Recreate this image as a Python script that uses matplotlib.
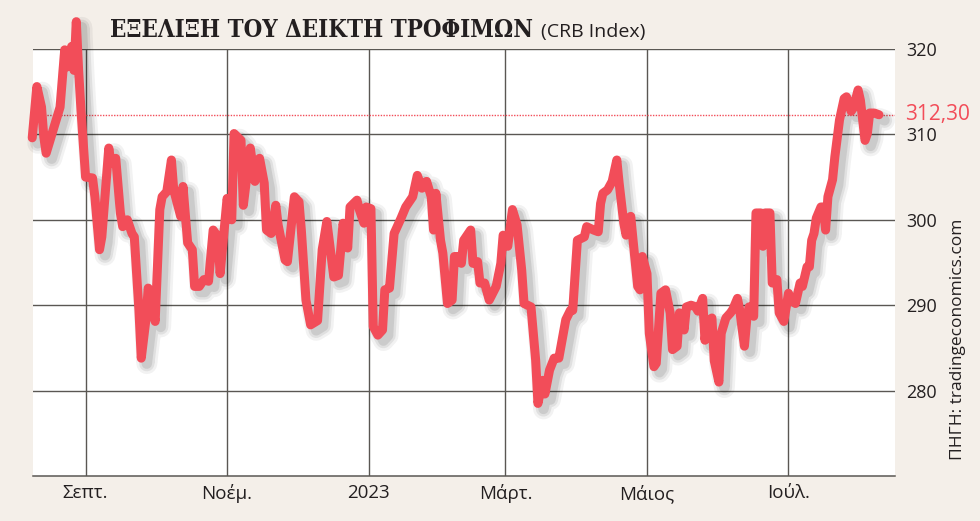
import matplotlib
matplotlib.use("Agg")
import matplotlib.pyplot as plt
import matplotlib.patheffects as pe
from matplotlib import font_manager as fm
import pandas as pd

dates = [
    "2022-08-09", "2022-08-11", "2022-08-13", "2022-08-14", "2022-08-15", "2022-08-18",
    "2022-08-21", "2022-08-23", "2022-08-24", "2022-08-26", "2022-08-27", "2022-08-28",
    "2022-08-29", "2022-08-30", "2022-09-01", "2022-09-04", "2022-09-05", "2022-09-07",
    "2022-09-08", "2022-09-11", "2022-09-12", "2022-09-14", "2022-09-16", "2022-09-17",
    "2022-09-19", "2022-09-21", "2022-09-22", "2022-09-24", "2022-09-25", "2022-09-27",
    "2022-09-28", "2022-10-01", "2022-10-03", "2022-10-04", "2022-10-06", "2022-10-08",
    "2022-10-09", "2022-10-12", "2022-10-13", "2022-10-15", "2022-10-17", "2022-10-18",
    "2022-10-20", "2022-10-22", "2022-10-24", "2022-10-26", "2022-10-28", "2022-10-29",
    "2022-11-01", "2022-11-03", "2022-11-04", "2022-11-07", "2022-11-08", "2022-11-11",
    "2022-11-13", "2022-11-15", "2022-11-17", "2022-11-18", "2022-11-20", "2022-11-22",
    "2022-11-23", "2022-11-26", "2022-11-27", "2022-11-30", "2022-12-02", "2022-12-03",
    "2022-12-05", "2022-12-07", "2022-12-10", "2022-12-12", "2022-12-14", "2022-12-15",
    "2022-12-17", "2022-12-19", "2022-12-21", "2022-12-23", "2022-12-24", "2022-12-27",
    "2022-12-28", "2022-12-30", "2022-12-31", "2023-01-02", "2023-01-03", "2023-01-05",
    "2023-01-07", "2023-01-08", "2023-01-10", "2023-01-12", "2023-01-15", "2023-01-17",
    "2023-01-20", "2023-01-22", "2023-01-24", "2023-01-26", "2023-01-28", "2023-01-29",
    "2023-01-30", "2023-02-01", "2023-02-02", "2023-02-04", "2023-02-06", "2023-02-07",
    "2023-02-09", "2023-02-10", "2023-02-11", "2023-02-14", "2023-02-15", "2023-02-17",
    "2023-02-18", "2023-02-20", "2023-02-22", "2023-02-25", "2023-02-27", "2023-02-28",
    "2023-03-02", "2023-03-04", "2023-03-06", "2023-03-08", "2023-03-09", "2023-03-12",
    "2023-03-14", "2023-03-15", "2023-03-17", "2023-03-18", "2023-03-20", "2023-03-22",
    "2023-03-24", "2023-03-27", "2023-03-29", "2023-03-30", "2023-04-01", "2023-04-04",
    "2023-04-05", "2023-04-08", "2023-04-10", "2023-04-11", "2023-04-12", "2023-04-14",
    "2023-04-16", "2023-04-18", "2023-04-19", "2023-04-21", "2023-04-22", "2023-04-24",
    "2023-04-25", "2023-04-27", "2023-04-28", "2023-04-29", "2023-05-01", "2023-05-02",
    "2023-05-04", "2023-05-05", "2023-05-07", "2023-05-09", "2023-05-11", "2023-05-12",
    "2023-05-14", "2023-05-15", "2023-05-16", "2023-05-17", "2023-05-18", "2023-05-20",
    "2023-05-22", "2023-05-23", "2023-05-25", "2023-05-26", "2023-05-27", "2023-05-29",
    "2023-05-30", "2023-06-01", "2023-06-02", "2023-06-04", "2023-06-06", "2023-06-07",
    "2023-06-09", "2023-06-10", "2023-06-12", "2023-06-13", "2023-06-14", "2023-06-16",
    "2023-06-17", "2023-06-19", "2023-06-20", "2023-06-21", "2023-06-23", "2023-06-24",
    "2023-06-25", "2023-06-26", "2023-06-27", "2023-06-29", "2023-07-01", "2023-07-02",
    "2023-07-04", "2023-07-06", "2023-07-07", "2023-07-09", "2023-07-10", "2023-07-11",
    "2023-07-12", "2023-07-13", "2023-07-15", "2023-07-16", "2023-07-17", "2023-07-18",
    "2023-07-20", "2023-07-21", "2023-07-23", "2023-07-25", "2023-07-26", "2023-07-28",
    "2023-07-29", "2023-07-31", "2023-08-01", "2023-08-03", "2023-08-04", "2023-08-05",
    "2023-08-07", "2023-08-09",
]
values = [
    309.6, 315.6, 313.2, 309.7, 307.8, 310.5,
    313.2, 319.9, 317.9, 320.3, 317.5, 323.2,
    317.5, 312.9, 305.0, 304.9, 302.7, 296.5,
    298.0, 308.4, 306.6, 307.2, 300.8, 299.2,
    300.0, 298.4, 298.0, 289.4, 283.8, 288.3,
    292.0, 288.1, 301.2, 302.7, 303.3, 307.0,
    303.5, 300.4, 303.9, 297.3, 296.5, 292.2,
    292.2, 293.0, 292.8, 298.8, 298.0, 293.7,
    302.5, 300.0, 310.1, 309.3, 301.7, 308.4,
    304.5, 307.2, 304.3, 298.8, 298.4, 301.7,
    299.4, 295.3, 295.1, 302.7, 302.1, 298.8,
    290.6, 287.7, 288.2, 296.5, 299.8, 297.6,
    293.3, 293.5, 299.6, 296.7, 301.5, 302.3,
    301.2, 299.6, 301.5, 301.3, 287.5, 286.5,
    287.1, 291.8, 292.0, 298.4, 300.2, 301.5,
    302.7, 305.2, 303.7, 304.5, 302.7, 298.8,
    303.1, 297.6, 296.1, 290.2, 290.6, 295.7,
    295.7, 294.9, 297.6, 298.8, 294.9, 295.1,
    292.6, 292.6, 290.6, 292.2, 294.9, 298.2,
    296.9, 301.2, 299.4, 294.1, 290.2, 289.8,
    283.6, 278.5, 281.2, 279.6, 282.4, 283.8,
    283.8, 288.3, 289.4, 289.4, 297.6, 298.0,
    299.2, 298.8, 298.6, 301.9, 303.1, 303.5,
    304.5, 307.0, 304.3, 299.6, 298.2, 300.4,
    297.6, 292.2, 291.8, 295.7, 293.7, 286.7,
    282.8, 283.2, 291.4, 291.8, 289.1, 284.8,
    285.2, 289.1, 288.7, 287.1, 289.8, 290.0,
    289.8, 289.3, 290.8, 285.9, 288.1, 288.5,
    283.5, 281.0, 286.7, 288.5, 289.1, 289.5,
    290.8, 289.4, 285.2, 288.3, 289.8, 288.7,
    300.8, 300.8, 296.9, 300.8, 300.8, 292.6,
    292.6, 293.0, 289.1, 288.1, 291.4, 290.6,
    290.2, 292.6, 292.2, 294.5, 294.5, 297.6,
    298.4, 300.2, 301.5, 301.5, 298.8, 302.7,
    304.7, 307.4, 311.7, 314.2, 314.4, 312.7,
    313.1, 315.2, 314.0, 309.3, 310.1, 312.5,
    312.5, 312.3,
]

last_value = 312.30
last_label = "312,30"
y_ticks = [280, 290, 300, 310, 320]
x_tick_dates = ["2022-09-01", "2022-11-01", "2023-01-01", "2023-03-01", "2023-05-01", "2023-07-01"]
x_tick_labels = ["Σεπτ.", "Νοέμ.", "2023", "Μάρτ.", "Μάιος", "Ιούλ."]
title = "ΕΞΕΛΙΞΗ ΤΟΥ ΔΕΙΚΤΗ ΤΡΟΦΙΜΩΝ"
subtitle = "(CRB Index)"
source = "ΠΗΓΗ: tradingeconomics.com"

SANS = ["Open Sans", "DejaVu Sans"]

# title face: DejaVu Serif Condensed Bold when installed, else regular DejaVu Serif
title_fp = fm.FontProperties(family="DejaVu Serif", size=16.5)
for f in fm.fontManager.ttflist:
    if f.fname.endswith("DejaVuSerifCondensed-Bold.ttf"):
        title_fp = fm.FontProperties(fname=f.fname, size=17.2)
        break

BG = "#f4efe9"
RED = "#f24d59"
GRID = "#5a5753"
INK = "#231f20"

x = pd.to_datetime(dates)

fig = plt.figure(figsize=(9.8, 5.21), dpi=100, facecolor=BG)
ax = fig.add_axes([33 / 980, 1 - 476 / 521, (895 - 33) / 980, (476 - 49) / 521])
ax.set_facecolor("white")

ax.set_xlim(pd.Timestamp("2022-08-09 08:00"), pd.Timestamp("2023-08-15 22:00"))
ax.set_ylim(270, 320)

for s in ["left", "right", "top"]:
    ax.spines[s].set_visible(False)
ax.spines["bottom"].set_color(GRID)
ax.spines["bottom"].set_linewidth(1.1)

ax.yaxis.tick_right()
ax.set_yticks(y_ticks)
ax.set_yticklabels([str(v) for v in y_ticks])
ax.set_xticks(pd.to_datetime(x_tick_dates))
ax.set_xticklabels(x_tick_labels)
ax.tick_params(axis="both", length=0, colors=INK)
ax.tick_params(axis="y", pad=8)
ax.tick_params(axis="x", pad=6)
for lab in ax.get_yticklabels():
    lab.set_fontfamily(SANS)
    lab.set_fontsize(13)
for lab in ax.get_xticklabels():
    lab.set_fontfamily(SANS)
    lab.set_fontsize(13.5)

ax.grid(True, color=GRID, linewidth=1.0, zorder=1)
ax.set_axisbelow(True)

ax.axhline(last_value, color=RED, linestyle=(0, (1, 1)), linewidth=1.0, zorder=2)
ax.annotate(last_label, xy=(1.0, last_value), xycoords=ax.get_yaxis_transform(),
            xytext=(7, 0), textcoords="offset points",
            color=RED, fontsize=15, family=SANS, va="center", ha="left")

shadow = [
    pe.SimpleLineShadow(offset=(4, -4), shadow_color="#000000", alpha=0.05, linewidth=15),
    pe.SimpleLineShadow(offset=(4, -4), shadow_color="#000000", alpha=0.07, linewidth=11),
    pe.SimpleLineShadow(offset=(4, -4), shadow_color="#000000", alpha=0.09, linewidth=7.5),
    pe.Normal(),
]
ax.plot(x, values, color=RED, linewidth=6.5, solid_joinstyle="round",
        solid_capstyle="round", zorder=5, clip_on=False, path_effects=shadow)

fig.text(110 / 980, 1 - 37 / 521, title, fontproperties=title_fp,
         color=INK, va="baseline", ha="left")
fig.text(541 / 980, 1 - 37 / 521, subtitle, family=SANS, fontsize=14,
         color=INK, va="baseline", ha="left")
fig.text(958 / 980, 1 - 339 / 521, source, family=SANS,
         fontsize=12.5, color=INK, rotation=90, va="center", ha="center")

fig.savefig("out.png", dpi=100, facecolor=BG)
